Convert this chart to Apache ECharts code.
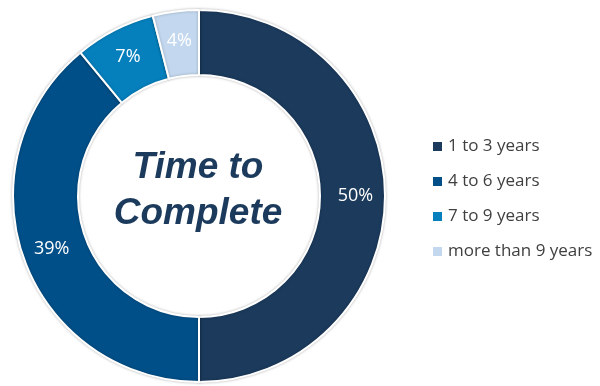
<!DOCTYPE html>
<html>
<head>
<meta charset="utf-8">
<script src="https://cdn.jsdelivr.net/npm/echarts@6/dist/echarts.min.js"></script>
<style>
  html, body { margin: 0; padding: 0; background: #fff; }
  #chart { width: 600px; height: 386px; }
</style>
</head>
<body>
<div id="chart"></div>
<script>
let categories = ['1 to 3 years', '4 to 6 years', '7 to 9 years', 'more than 9 years'];
let shares = [50, 39, 7, 4];
let colors = ['#1b3a5c', '#004f88', '#0580bd', '#c3d8ef'];

let pieData = [];
for (let i = 0; i < categories.length; i++) {
    pieData.push({ name: categories[i], value: shares[i] });
}

let chart = echarts.init(document.getElementById('chart'));

let option = {
    color: colors,
    animation: false,
    legend: {
        orient: 'vertical',
        left: 426,
        top: 133,
        itemGap: 18,
        itemWidth: 11,
        itemHeight: 11,
        icon: 'rect',
        textStyle: {
            fontFamily: 'Open Sans, sans-serif',
            fontSize: 17,
            color: '#404040'
        },
        data: categories
    },
    graphic: [
        {
            type: 'text',
            x: 198,
            y: 191,
            z: 100,
            style: {
                text: 'Time to\nComplete',
                align: 'center',
                verticalAlign: 'middle',
                fontFamily: '"Liberation Sans", Arial, sans-serif',
                fontStyle: 'italic',
                fontWeight: 'bold',
                fontSize: 37,
                lineHeight: 46,
                fill: '#1b3a5c'
            }
        }
    ],
    series: [
        {
            type: 'pie',
            center: [199, 196],
            radius: [121, 186],
            startAngle: 90,
            clockwise: true,
            data: pieData,
            itemStyle: {
                borderColor: '#ffffff',
                borderWidth: 2,
                shadowBlur: 3,
                shadowColor: 'rgba(0,0,0,0.25)'
            },
            label: {
                show: true,
                position: 'inside',
                formatter: '{c}%',
                color: '#ffffff',
                fontFamily: 'Open Sans, sans-serif',
                fontSize: 18
            },
            labelLine: { show: false },
            emphasis: { disabled: true }
        }
    ]
};

chart.setOption(option);
</script>
</body>
</html>
